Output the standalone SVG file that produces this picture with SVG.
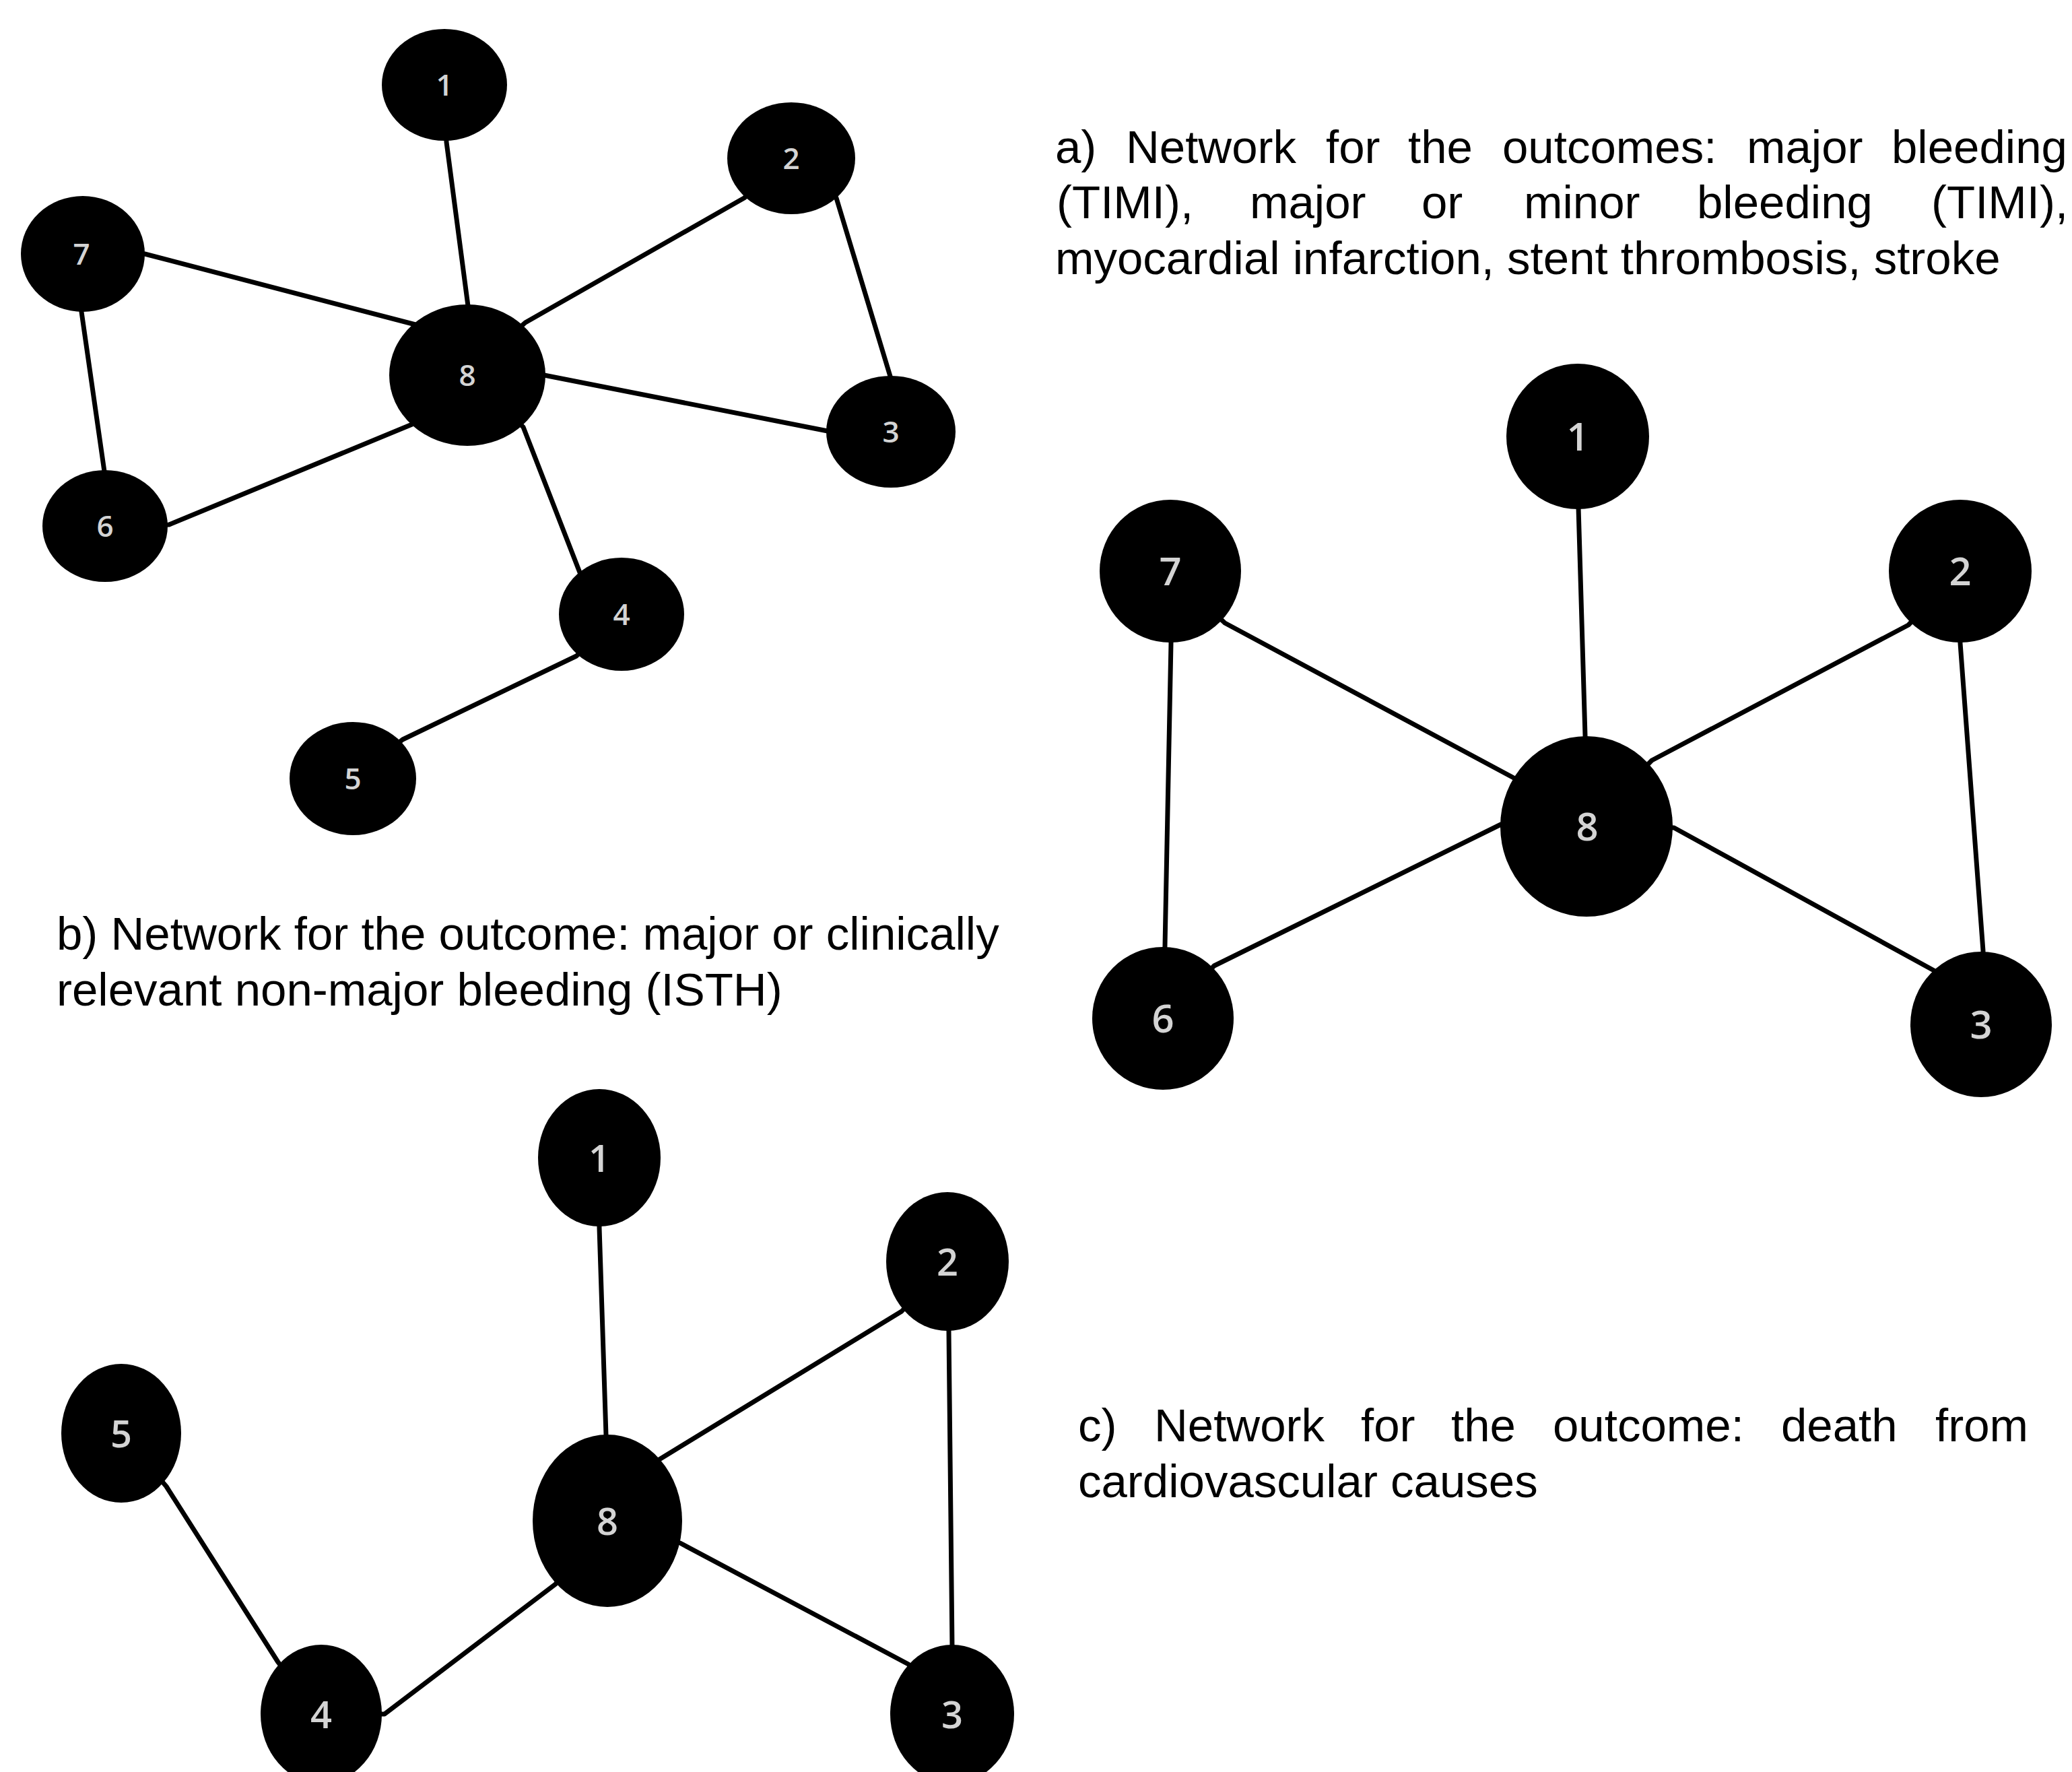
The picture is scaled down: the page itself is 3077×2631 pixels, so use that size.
<svg xmlns="http://www.w3.org/2000/svg" width="3077" height="2631" viewBox="0 0 3077 2631">
<style>
.edge{fill:none;stroke:#000;stroke-width:7;stroke-linejoin:round}
.node{fill:#000}
.lbl{font-family:"Open Sans","Noto Sans",sans-serif;fill:#d4d4d4;text-anchor:middle;font-weight:600}
.la{font-size:44px}
.lb{font-size:58px}
.lc{font-size:56px}
.cap{font-family:"Liberation Sans",Arial,sans-serif;font-size:69px;fill:#000}
</style>
<rect width="3077" height="2631" fill="#fff"/>
<g id="connectors">
<!-- graph a -->
<polyline class="edge" points="660,126 663,211 695,454 694,557"/>
<polyline class="edge" points="123,377 215,377 617,482 694,557"/>
<polyline class="edge" points="1175,235 1105,294 780,479 694,557"/>
<polyline class="edge" points="694,557 808,557 1229,640 1323,641"/>
<polyline class="edge" points="1175,235 1242,294 1323,562 1323,641"/>
<polyline class="edge" points="123,377 120,456 155,700 156,781"/>
<polyline class="edge" points="156,781 251,779 612,630 694,557"/>
<polyline class="edge" points="694,557 777,634 861,850 923,912"/>
<polyline class="edge" points="923,912 856,974 598,1098 524,1156"/>
<!-- graph b -->
<polyline class="edge" points="2343,648 2344,753 2354,1092 2356,1227"/>
<polyline class="edge" points="1738,848 1819,925 2248,1155 2356,1227"/>
<polyline class="edge" points="2911,848 2834,928 2453,1129 2356,1227"/>
<polyline class="edge" points="1738,848 1739,955 1730,1404 1727,1512"/>
<polyline class="edge" points="1727,1512 1803,1434 2229,1224 2356,1227"/>
<polyline class="edge" points="2356,1227 2486,1229 2872,1441 2942,1521"/>
<polyline class="edge" points="2911,848 2911,955 2945,1412 2942,1521"/>
<!-- graph c -->
<polyline class="edge" points="890,1719 890,1823 900,2131 902,2258"/>
<polyline class="edge" points="1407,1873 1339,1947 979,2167 902,2258"/>
<polyline class="edge" points="1407,1873 1409,1977 1414,2445 1414,2545"/>
<polyline class="edge" points="902,2258 1010,2291 1349,2471 1414,2545"/>
<polyline class="edge" points="902,2258 825,2352 571,2545 477,2545"/>
<polyline class="edge" points="180,2128 247,2207 413,2468 477,2545"/>
</g>
<!-- graph a nodes -->
<g id="a1"><ellipse class="node" cx="660" cy="126" rx="93" ry="83"/><text class="lbl la" x="660" y="142">1</text></g>
<g id="a2"><ellipse class="node" cx="1175" cy="235" rx="95" ry="83"/><text class="lbl la" x="1175" y="251">2</text></g>
<g id="a3"><ellipse class="node" cx="1323" cy="641" rx="96" ry="83"/><text class="lbl la" x="1323" y="657">3</text></g>
<g id="a4"><ellipse class="node" cx="923" cy="912" rx="93" ry="84"/><text class="lbl la" x="923" y="928">4</text></g>
<g id="a5"><ellipse class="node" cx="524" cy="1156" rx="94" ry="84"/><text class="lbl la" x="524" y="1172">5</text></g>
<g id="a6"><ellipse class="node" cx="156" cy="781" rx="93" ry="83"/><text class="lbl la" x="156" y="797">6</text></g>
<g id="a7"><ellipse class="node" cx="123" cy="377" rx="92" ry="86"/><text class="lbl la" x="121" y="393">7</text></g>
<g id="a8"><ellipse class="node" cx="694" cy="557" rx="116" ry="105"/><text class="lbl la" x="694" y="573">8</text></g>
<!-- graph b nodes -->
<g id="b1"><ellipse class="node" cx="2343" cy="648" rx="106" ry="108"/><text class="lbl lb" x="2343" y="669">1</text></g>
<g id="b2"><ellipse class="node" cx="2911" cy="848" rx="106" ry="106"/><text class="lbl lb" x="2911" y="869">2</text></g>
<g id="b3"><ellipse class="node" cx="2942" cy="1521" rx="105" ry="108"/><text class="lbl lb" x="2942" y="1542">3</text></g>
<g id="b6"><ellipse class="node" cx="1727" cy="1512" rx="105" ry="106"/><text class="lbl lb" x="1727" y="1533">6</text></g>
<g id="b7"><ellipse class="node" cx="1738" cy="848" rx="105" ry="106"/><text class="lbl lb" x="1738" y="869">7</text></g>
<g id="b8"><ellipse class="node" cx="2356" cy="1227" rx="128" ry="134"/><text class="lbl lb" x="2357" y="1248">8</text></g>
<!-- graph c nodes -->
<g id="c1"><ellipse class="node" cx="890" cy="1719" rx="91" ry="102"/><text class="lbl lc" x="890" y="1740">1</text></g>
<g id="c2"><ellipse class="node" cx="1407" cy="1873" rx="91" ry="103"/><text class="lbl lc" x="1407" y="1894">2</text></g>
<g id="c3"><ellipse class="node" cx="1414" cy="2545" rx="92" ry="103"/><text class="lbl lc" x="1414" y="2566">3</text></g>
<g id="c4"><ellipse class="node" cx="477" cy="2545" rx="90" ry="103"/><text class="lbl lc" x="477" y="2566">4</text></g>
<g id="c5"><ellipse class="node" cx="180" cy="2128" rx="89" ry="103"/><text class="lbl lc" x="180" y="2149">5</text></g>
<g id="c8"><ellipse class="node" cx="902" cy="2258" rx="111" ry="128"/><text class="lbl lc" x="902" y="2279">8</text></g>
<!-- captions -->
<g id="caption-a">
<text class="cap" y="242"><tspan x="1567">a)</tspan><tspan x="1672">Network</tspan><tspan x="1969">for</tspan><tspan x="2091">the</tspan><tspan x="2231">outcomes:</tspan><tspan x="2594">major</tspan><tspan x="2809">bleeding</tspan></text>
<text class="cap" y="324"><tspan x="1569">(TIMI),</tspan><tspan x="1856">major</tspan><tspan x="2111">or</tspan><tspan x="2263">minor</tspan><tspan x="2520">bleeding</tspan><tspan x="2868">(TIMI),</tspan></text>
<text class="cap" x="1567" y="407">myocardial infarction, stent thrombosis, stroke</text>
</g>
<g id="caption-b">
<text class="cap" x="84" y="1410">b) Network for the outcome: major or clinically</text>
<text class="cap" x="84" y="1493">relevant non-major bleeding (ISTH)</text>
</g>
<g id="caption-c">
<text class="cap" y="2140"><tspan x="1601">c)</tspan><tspan x="1714">Network</tspan><tspan x="2021">for</tspan><tspan x="2155">the</tspan><tspan x="2306">outcome:</tspan><tspan x="2645">death</tspan><tspan x="2874">from</tspan></text>
<text class="cap" x="1601" y="2223">cardiovascular causes</text>
</g>
</svg>
